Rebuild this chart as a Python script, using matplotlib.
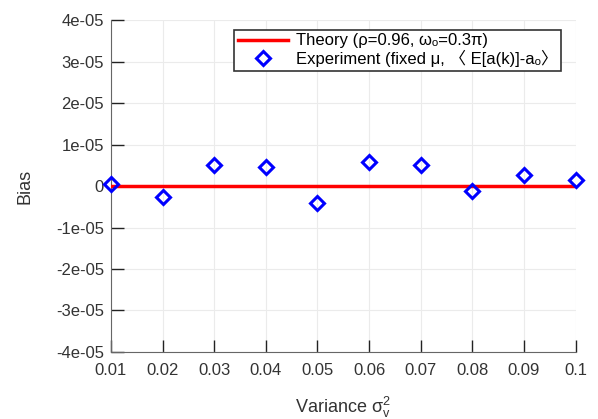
import matplotlib
matplotlib.use('Agg')
from matplotlib import pyplot as plt

plt.rcParams['font.family'] = ['Liberation Sans', 'DejaVu Sans', 'Noto Sans CJK SC']
plt.rcParams['mathtext.fontset'] = 'custom'
plt.rcParams['mathtext.rm'] = 'Liberation Sans'
plt.rcParams['mathtext.it'] = 'Liberation Sans'

variance = [0.01, 0.02, 0.03, 0.04, 0.05, 0.06, 0.07, 0.08, 0.09, 0.10]
bias_exp = [4e-7, -2.7e-6, 5.1e-6, 4.5e-6, -4.2e-6, 5.8e-6, 5.1e-6, -1.1e-6, 2.7e-6, 1.4e-6]
bias_theory = [0, 0, 0, 0, 0, 0, 0, 0, 0, 0]
yticks = [-4e-5, -3e-5, -2e-5, -1e-5, 0, 1e-5, 2e-5, 3e-5, 4e-5]
ytick_labels = ['-4e-05', '-3e-05', '-2e-05', '-1e-05', '0', '1e-05', '2e-05', '3e-05', '4e-05']
xtick_labels = ['0.01', '0.02', '0.03', '0.04', '0.05', '0.06', '0.07', '0.08', '0.09', '0.1']

fig = plt.figure(figsize=(5.98, 4.19), dpi=100)
ax = fig.add_axes([0.1856, 0.160, 0.777, 0.792])

ax.plot(variance, bias_theory, color='#ff0000', lw=2.5,
        label='Theory (ρ=0.96, ω\u2092=0.3π)', zorder=3)
ax.plot(variance, bias_exp, ls='none', marker='D', ms=7, mfc='none', mec='#0000ff',
        mew=2.2, label='Experiment (fixed μ, \u3008 E[a(k)]-a\u2092\u3009', zorder=4, clip_on=False)

ax.set_xlim(0.01, 0.1)
ax.set_ylim(-4e-5, 4e-5)
ax.set_xticks(variance)
ax.set_xticklabels(xtick_labels)
ax.set_yticks(yticks)
ax.set_yticklabels(ytick_labels)
ax.grid(True, color='#ebebeb', lw=0.8)
ax.set_axisbelow(True)

for s in ['top', 'right']:
    ax.spines[s].set_visible(False)
for s in ['left', 'bottom']:
    ax.spines[s].set_color('#666666')
ax.tick_params(direction='in', length=9, width=1, color='#222222',
               labelsize=12, labelcolor='#333333', pad=5)
ax.tick_params(axis='x', pad=8)

ax.set_xlabel('Variance σ$_v^2$', fontsize=13, color='#333333', labelpad=12)
ax.set_ylabel('Bias', fontsize=13, color='#333333', labelpad=16)

leg = ax.legend(loc='upper right', bbox_to_anchor=(0.979, 0.985), fontsize=12,
                frameon=True, fancybox=False, edgecolor='#333333', framealpha=1,
                handlelength=3.0, handletextpad=0.5, borderpad=0.2, labelspacing=0.1,
                borderaxespad=0.3)
leg.get_frame().set_linewidth(1.2)

fig.savefig('out.png', dpi=100)
